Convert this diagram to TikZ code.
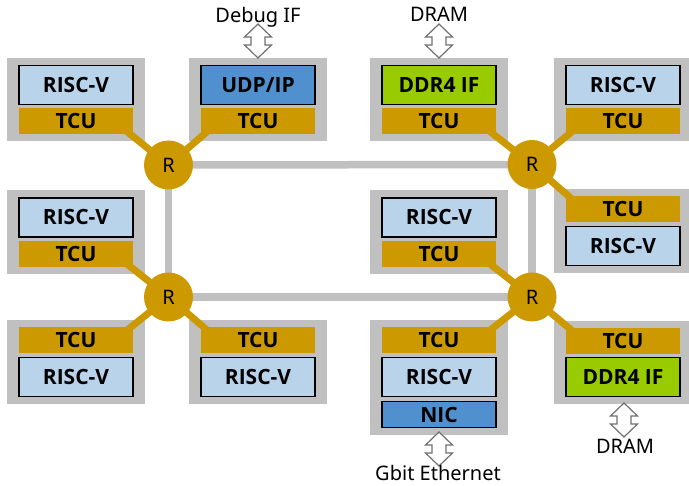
\documentclass[tikz,border=0pt]{standalone}
\usepackage{fontspec}
\setmainfont{Noto Sans}
\newfontfamily\boxfamily{Open Sans}
\usepackage{tikz}
\usetikzlibrary{arrows.meta,shapes,fit,positioning,calc}

\definecolor{tilegray}{HTML}{C0C0C0}
\definecolor{tcugold}{HTML}{CC9900}
\definecolor{riscblue}{HTML}{B9D3EA}
\definecolor{ioblue}{HTML}{5090CE}
\definecolor{ddrgreen}{HTML}{99CC00}
\definecolor{arrowgray}{HTML}{707070}

\pgfdeclarelayer{tiles}
\pgfdeclarelayer{links}
\pgfsetlayers{tiles,links,main}

\begin{document}
\begin{tikzpicture}[
  x=1pt, y=-1pt,
  boxfont/.style={font=\boxfamily\fontsize{21}{25}\selectfont\bfseries},
  every node/.style={align=center},
  corebox/.style={rectangle, draw=black, line width=1.2pt, fill=#1, minimum width=114pt, minimum height=39pt, inner sep=0pt, boxfont},
  tcubar/.style={rectangle, fill=tcugold, minimum width=114pt, minimum height=26pt, inner sep=0pt, boxfont},
  nicbar/.style={rectangle, draw=black, line width=1.2pt, fill=ioblue, minimum width=114pt, minimum height=26pt, inner sep=0pt, boxfont},
  tile/.style={rectangle, fill=tilegray, inner xsep=11.5pt, inner ysep=7pt},
  router/.style={circle, fill=tcugold, minimum size=49pt, inner sep=0pt, font=\fontsize{20}{24}\selectfont},
  noclink/.style={draw=tilegray, line width=7.5pt},
  tculink/.style={draw=tcugold, line width=7pt},
  iolabel/.style={anchor=base, inner sep=0pt, font=\fontsize{20}{24}\selectfont},
  dblarrow/.pic={
    \draw[draw=arrowgray, fill=white, line width=1.2pt, line join=miter]
      (0,-17) -- ++(13.5,13) -- ++(-6.5,0) -- ++(0,8) -- ++(6.5,0)
      -- ++(-13.5,13) -- ++(-13.5,-13) -- ++(6.5,0) -- ++(0,-8)
      -- ++(-6.5,0) -- cycle;
  }
]
  \useasboundingbox (0,0) rectangle (689,486);

  % Top row tiles
  \node[corebox=riscblue] (coreA) at (76,85) {RISC-V};
  \node[tcubar, below=3pt of coreA] (tcuA) {TCU};
  \node[corebox=ioblue] (coreB) at (258,85) {UDP/IP};
  \node[tcubar, below=3pt of coreB] (tcuB) {TCU};
  \node[corebox=ddrgreen] (coreC) at (439,85) {DDR4 IF};
  \node[tcubar, below=3pt of coreC] (tcuC) {TCU};
  \node[corebox=riscblue] (coreD) at (623,85) {RISC-V};
  \node[tcubar, below=3pt of coreD] (tcuD) {TCU};

  % Middle row tiles
  \node[corebox=riscblue] (coreE) at (76,217.5) {RISC-V};
  \node[tcubar, below=3pt of coreE] (tcuE) {TCU};
  \node[corebox=riscblue] (coreF) at (439,217.5) {RISC-V};
  \node[tcubar, below=3pt of coreF] (tcuF) {TCU};
  \node[tcubar] (tcuG) at (623,209.5) {TCU};
  \node[corebox=riscblue, below=3pt of tcuG] (coreG) {RISC-V};

  % Bottom row tiles
  \node[tcubar] (tcuH) at (76,340.5) {TCU};
  \node[corebox=riscblue, below=3pt of tcuH] (coreH) {RISC-V};
  \node[tcubar] (tcuI) at (258,340.5) {TCU};
  \node[corebox=riscblue, below=3pt of tcuI] (coreI) {RISC-V};
  \node[tcubar] (tcuJ) at (439,340.5) {TCU};
  \node[corebox=riscblue, below=3pt of tcuJ] (coreJ) {RISC-V};
  \node[nicbar, below=4pt of coreJ] (nicJ) {NIC};
  \node[tcubar] (tcuK) at (623,341) {TCU};
  \node[corebox=ddrgreen, below=3pt of tcuK] (coreK) {DDR4 IF};

  % Gray tile frames
  \begin{pgfonlayer}{tiles}
    \node[tile, fit=(coreA)(tcuA)] (tileA) {};
    \node[tile, fit=(coreB)(tcuB)] (tileB) {};
    \node[tile, fit=(coreC)(tcuC)] (tileC) {};
    \node[tile, fit=(coreD)(tcuD)] (tileD) {};
    \node[tile, fit=(coreE)(tcuE)] (tileE) {};
    \node[tile, fit=(coreF)(tcuF)] (tileF) {};
    \node[tile, fit=(tcuG)(coreG)] (tileG) {};
    \node[tile, fit=(tcuH)(coreH)] (tileH) {};
    \node[tile, fit=(tcuI)(coreI)] (tileI) {};
    \node[tile, fit=(tcuJ)(nicJ)] (tileJ) {};
    \node[tile, fit=(tcuK)(coreK)] (tileK) {};
  \end{pgfonlayer}

  % Routers
  \node[router] (r1) at (168.5,165) {R};
  \node[router] (r2) at (532,164.5) {R};
  \node[router] (r3) at (168.5,297) {R};
  \node[router] (r4) at (532,297) {R};

  % Network links
  \begin{pgfonlayer}{links}
    \draw[noclink] (r1.center) -- (r2.center);
    \draw[noclink] (r3.center) -- (r4.center);
    \draw[noclink] (r1.center) -- (r3.center);
    \draw[noclink] (r2.center) -- (r4.center);

    \draw[tculink] (r1.center) -- ([xshift=-10pt,yshift=6pt]tcuA.south east);
    \draw[tculink] (r1.center) -- ([xshift=10pt,yshift=6pt]tcuB.south west);
    \draw[tculink] (r2.center) -- ([xshift=-10pt,yshift=6pt]tcuC.south east);
    \draw[tculink] (r2.center) -- ([xshift=10pt,yshift=6pt]tcuD.south west);
    \draw[tculink] (r2.center) -- ([xshift=10pt,yshift=-6pt]tcuG.north west);
    \draw[tculink] (r3.center) -- ([xshift=-10pt,yshift=6pt]tcuE.south east);
    \draw[tculink] (r3.center) -- ([xshift=-10pt,yshift=-6pt]tcuH.north east);
    \draw[tculink] (r3.center) -- ([xshift=10pt,yshift=-6pt]tcuI.north west);
    \draw[tculink] (r4.center) -- ([xshift=-10pt,yshift=6pt]tcuF.south east);
    \draw[tculink] (r4.center) -- ([xshift=-10pt,yshift=-6pt]tcuJ.north east);
    \draw[tculink] (r4.center) -- ([xshift=10pt,yshift=-6pt]tcuK.north west);
  \end{pgfonlayer}

  % External interfaces
  \node[iolabel] (dbg) at (258,23) {Debug IF};
  \coordinate (dbgio) at (258,41);
  \pic at (dbgio) {dblarrow};
  \node[iolabel] (dramtop) at (439,22) {DRAM};
  \coordinate (dramtopio) at (439,41);
  \pic at (dramtopio) {dblarrow};
  \coordinate (dramio) at (624,420);
  \pic at (dramio) {dblarrow};
  \node[iolabel] (dram) at (625,454) {DRAM};
  \coordinate (ethio) at (439,449);
  \pic at (ethio) {dblarrow};
  \node[iolabel] (eth) at (438,481) {Gbit Ethernet};

\end{tikzpicture}
\end{document}
